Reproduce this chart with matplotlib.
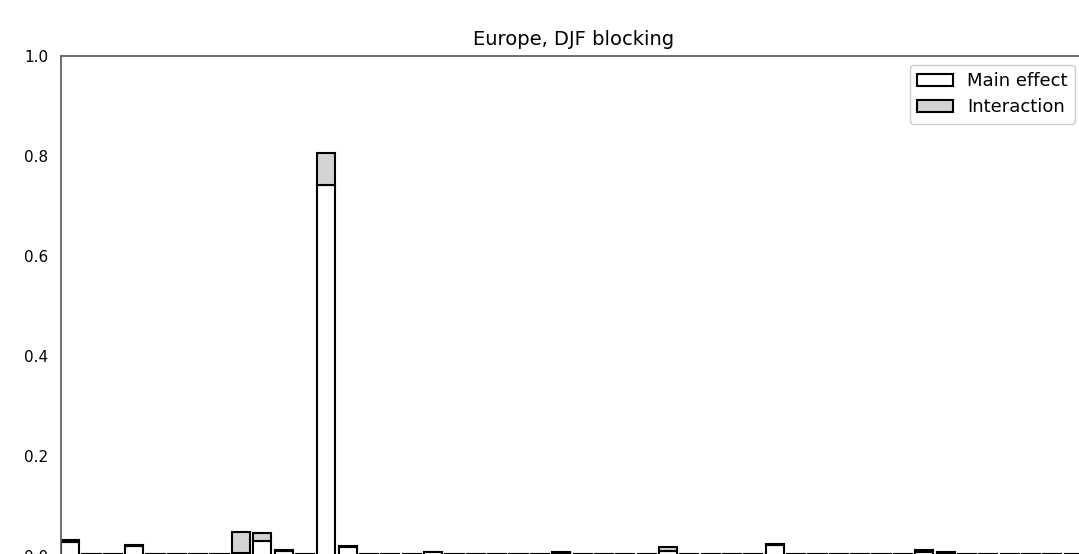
import matplotlib
matplotlib.use('Agg')
import matplotlib.pyplot as plt
import numpy as np

# Sensitivity indices per input factor (48 factors)
n_factors = 48
main_effect = np.full(n_factors, 0.005)
interaction = np.zeros(n_factors)

main_idx = [0, 3, 8, 9, 10, 12, 13, 17, 23, 28, 33, 40, 41]
main_val = [0.028, 0.020, 0.006, 0.030, 0.010, 0.742, 0.018, 0.008, 0.007, 0.010, 0.022, 0.008, 0.007]
inter_val = [0.004, 0.003, 0.042, 0.016, 0.002, 0.064, 0.003, 0.001, 0.001, 0.008, 0.003, 0.004, 0.001]

main_effect[main_idx] = main_val
interaction[main_idx] = inter_val

W, H = 1079, 554
fig = plt.figure(figsize=(W / 100, H / 100), dpi=100)
ax = fig.add_axes([61 / W, -2 / H, 1025 / W, 500 / H])

x = np.arange(n_factors)
ax.bar(x, main_effect, width=0.85, align='edge', color='white',
       edgecolor='black', linewidth=1.5, label='Main effect')
ax.bar(x, interaction, width=0.85, align='edge', bottom=main_effect,
       color='lightgray', edgecolor='black', linewidth=1.5, label='Interaction')

ax.set_xlim(0, n_factors)
ax.set_ylim(0, 1.0)
ax.set_xticks([])
ax.set_yticks([0.0, 0.2, 0.4, 0.6, 0.8, 1.0])
ax.tick_params(axis='y', length=0, pad=9, labelsize=11)
for s in ax.spines.values():
    s.set_color('#555555')
    s.set_linewidth(1.2)

ax.set_title('Europe, DJF blocking', fontsize=14, pad=8)
ax.legend(loc='upper right', bbox_to_anchor=(1 - 11 / 1025, 1 - 9 / 500),
          borderaxespad=0, fontsize=13, handlelength=2.0, handleheight=0.6,
          labelspacing=0.45, framealpha=1)

plt.savefig('out.png', dpi=100)
